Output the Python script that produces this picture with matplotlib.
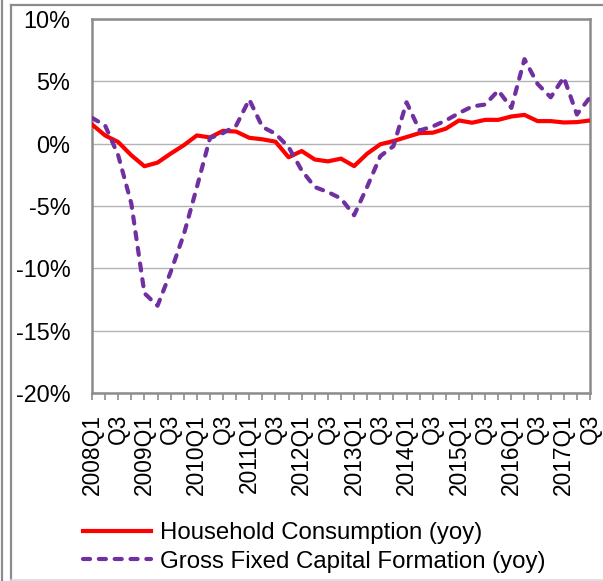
import matplotlib
matplotlib.use("Agg")
import matplotlib.pyplot as plt
from matplotlib.ticker import FuncFormatter, FixedLocator
from matplotlib.lines import Line2D

plt.rcParams['font.family'] = ['Liberation Sans', 'DejaVu Sans']

quarters = [f"{y}Q{q}" for y in range(2008, 2018) for q in range(1, 5)][:39]
tick_labels = ["2008Q1", "Q3", "2009Q1", "Q3", "2010Q1", "Q3", "2011Q1", "Q3",
               "2012Q1", "Q3", "2013Q1", "Q3", "2014Q1", "Q3", "2015Q1", "Q3",
               "2016Q1", "Q3", "2017Q1", "Q3"]

household = [1.54, 0.66, 0.13, -0.93, -1.81, -1.52, -0.80, -0.13, 0.66, 0.50,
             1.03, 0.97, 0.47, 0.35, 0.16, -1.09, -0.59, -1.27, -1.42, -1.20,
             -1.80, -0.80, -0.05, 0.21, 0.53, 0.85, 0.88, 1.20, 1.86, 1.68,
             1.91, 1.91, 2.18, 2.31, 1.81, 1.81, 1.70, 1.73, 1.86]

gfcf = [2.07, 1.46, -0.94, -4.80, -12.0, -13.0, -10.3, -7.3, -3.5, 0.45,
        0.85, 1.45, 3.54, 1.34, 0.80, -0.27, -2.14, -3.48, -3.88, -4.40,
        -5.74, -3.45, -1.00, -0.20, 3.32, 1.06, 1.38, 1.86, 2.45, 2.98,
        3.14, 4.26, 2.87, 6.78, 4.79, 3.72, 5.32, 2.34, 3.72]

series_names = ["Household Consumption (yoy)", "Gross Fixed Capital Formation (yoy)"]

W, H = 603, 581
fig = plt.figure(figsize=(W / 100, H / 100), dpi=100)

# outer frame lines (screenshot border)
fig.add_artist(Line2D([2 / W, 2 / W], [0, 1], color="#8c8c8c", lw=1.6, transform=fig.transFigure))
fig.add_artist(Line2D([11 / W, 11 / W], [0, 1 - 5 / H], color="#8c8c8c", lw=1.6, transform=fig.transFigure))
fig.add_artist(Line2D([11 / W, 1], [1 - 5 / H, 1 - 5 / H], color="#8c8c8c", lw=1.6, transform=fig.transFigure))
fig.add_artist(Line2D([11 / W, 1], [1.5 / H, 1.5 / H], color="#d9d9d9", lw=1.2, transform=fig.transFigure))

left, right, top, bottom = 92, 590, 19, 393
ax = fig.add_axes([left / W, 1 - bottom / H, (right - left) / W, (bottom - top) / H])

x = list(range(len(quarters)))
ax.plot(x, household, color="#ff0000", lw=3.0, solid_joinstyle="round", zorder=3,
        label=series_names[0])
ax.plot(x, gfcf, color="#7030a0", lw=3.0, dashes=(1.7, 2.1), dash_capstyle="round",
        zorder=4, label=series_names[1])

ax.set_xlim(0, len(quarters) - 1)
ax.set_ylim(-20, 10)
ax.yaxis.set_major_locator(FixedLocator([-20, -15, -10, -5, 0, 5, 10]))
ax.yaxis.set_major_formatter(FuncFormatter(lambda v, p: f"{int(round(v))}%"))
ax.grid(axis="y", color="#b3b3b3", lw=1.0)
ax.set_axisbelow(True)

ax.set_xticks(x[::2])
ax.set_xticklabels(tick_labels, rotation=90, fontsize=16.4)
ax.set_xticks(x, minor=True)
ax.tick_params(axis="x", which="major", length=5, width=1.2, color="#8c8c8c",
               direction="out", pad=10)
ax.tick_params(axis="x", which="minor", length=5, width=1.2, color="#8c8c8c",
               direction="out")
ax.tick_params(axis="y", length=0, pad=15.5, labelsize=16.8)

for s in ax.spines.values():
    s.set_color("#8c8c8c")
    s.set_linewidth(1.8)

fig.legend(loc="upper left", bbox_to_anchor=(83 / W, 1 - 522 / H), frameon=False,
           fontsize=17.3, handlelength=2.85, handletextpad=0.35, labelspacing=0.28,
           borderpad=0, borderaxespad=0)

fig.savefig("out.png", dpi=100)
